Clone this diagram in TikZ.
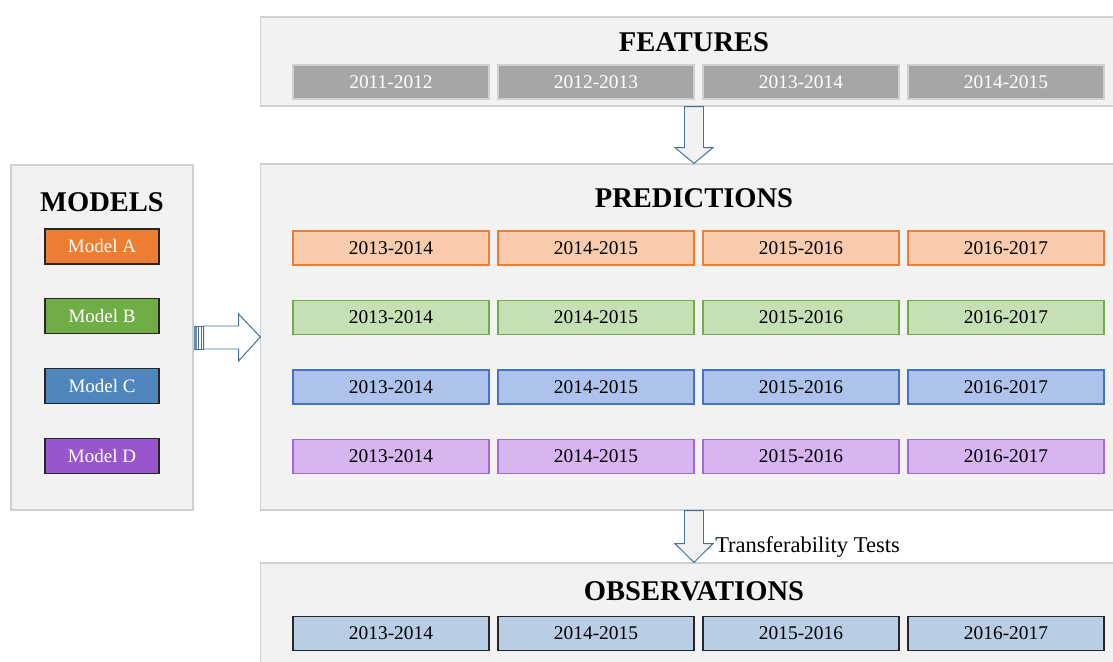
\documentclass[tikz,border=0pt]{standalone}
\usepackage{fontspec}
\setmainfont{Liberation Serif}
\usepackage{tikz}
\usetikzlibrary{calc}
\definecolor{panelgray}{HTML}{F2F2F2}
\definecolor{panelline}{HTML}{D0D0D0}
\definecolor{featgray}{HTML}{A6A6A6}
\definecolor{arrowblue}{HTML}{41719C}
\definecolor{obsblue}{HTML}{B9CDE5}
\definecolor{mOrange}{HTML}{ED7D31}
\definecolor{mGreen}{HTML}{70AD47}
\definecolor{mBlue}{HTML}{4F86BE}
\definecolor{mPurple}{HTML}{9955CC}
\definecolor{pOrange}{HTML}{F8CBAD}
\definecolor{pGreen}{HTML}{C5E0B4}
\definecolor{pBlue}{HTML}{AEC3EB}
\definecolor{pPurple}{HTML}{D7B5F0}
\definecolor{lBlue}{HTML}{4472C4}
\definecolor{lPurple}{HTML}{A368D9}

\begin{document}
\begin{tikzpicture}[x=0.025cm,y=-0.025cm]
\tikzset{panel/.style={draw=panelline, fill=panelgray, line width=0.8pt, inner sep=0pt},
  heading/.style={font=\fontsize{20.3}{24}\selectfont\bfseries},
  yearbox/.style={minimum width=4.9cm, minimum height=0.85cm, inner sep=0pt,
    line width=0.8pt, font=\fontsize{13.8}{16}\selectfont},
  featbox/.style={yearbox, fill=featgray, draw=panelline, text=white},
  obsbox/.style={yearbox, fill=obsblue, draw=black!85},
  modelbox/.style={minimum width=2.85cm, minimum height=0.875cm, inner sep=0pt,
    line width=0.8pt, draw=black!85, text=white, font=\fontsize{13.5}{16}\selectfont},
  blockarrow/.style={draw=arrowblue, fill=white, line width=0.7pt, line join=miter}}
\path[use as bounding box, clip] (0,0) rectangle (1113,662);
% the panels
\node[panel, minimum width=21.65cm, minimum height=2.225cm] (feat) at (694,61.5) {};
\node[panel, minimum width=21.65cm, minimum height=8.65cm] (pred) at (694,337) {};
\node[panel, minimum width=21.65cm, minimum height=2.725cm] (obs) at (694,617.5) {};
\node[panel, minimum width=4.55cm, minimum height=8.625cm] (models) at (102,337.5) {};
% headings
\node[heading] (featT) at ($(feat.north)+(0,26)$) {FEATURES};
\node[heading] (predT) at ($(pred.north)+(0,35)$) {PREDICTIONS};
\node[heading] (obsT) at ($(obs.north)+(0,29)$) {OBSERVATIONS};
\node[heading] (modelsT) at ($(models.north)+(0,38)$) {MODELS};
% feature years
\foreach \yr [count=\i from 0] in {2011-2012,2012-2013,2013-2014,2014-2015} {
\node[featbox] (f\i) at (391+205*\i,82) {\yr};
}
% predictions, one row per model
\foreach \r/\fc/\lc in {0/pOrange/mOrange,1/pGreen/mGreen,2/pBlue/lBlue,3/pPurple/lPurple} {
\foreach \yr [count=\i from 0] in {2013-2014,2014-2015,2015-2016,2016-2017} {
\node[yearbox, fill=\fc, draw=\lc] (p\r\i) at (391+205*\i,248+69.5*\r) {\yr};
}
}
% observations
\foreach \yr [count=\i from 0] in {2013-2014,2014-2015,2015-2016,2016-2017} {
\node[obsbox] (o\i) at (391+205*\i,633.5) {\yr};
}
% models
\foreach \m/\c [count=\i from 0] in {A/mOrange,B/mGreen,C/mBlue,D/mPurple} {
\node[modelbox, fill=\c] (m\m) at (102,246.5+69.8*\i) {Model \m};
}
% block arrows
\draw[blockarrow, fill=panelgray] ($(feat.south)+(-9.5,0)$) -- ($(feat.south)+(9.5,0)$) -- ++(0,41)
  -- ++(9.5,0) -- (pred.north) -- ($(feat.south)+(-19,41)$) -- ++(9.5,0) -- cycle;
\draw[blockarrow, fill=panelgray] ($(pred.south)+(-9.5,0)$) -- ($(pred.south)+(9.5,0)$) -- ++(0,33)
  -- ++(9.5,0) -- (obs.north) -- ($(pred.south)+(-19,33)$) -- ++(9.5,0) -- cycle;
\draw[blockarrow] ($(models.east)+(10,-11.5)$) -- ++(35,0) -- ++(0,-12) -- (pred.west)
  -- ($(models.east)+(45,23.5)$) -- ++(0,-12) -- ($(models.east)+(10,11.5)$) -- cycle;
\fill[arrowblue!80] ($(models.east)+(0,-11.5)$) rectangle ++(3,23);
\draw[arrowblue, line width=0.5pt] ($(models.east)+(5,-11.5)$) -- ++(0,23);
\draw[arrowblue, line width=0.5pt] ($(models.east)+(8,-11.5)$) -- ++(0,23);
\draw[arrowblue, line width=0.5pt] ($(models.east)+(0,-11.5)$) -- ++(10,0);
\draw[arrowblue, line width=0.5pt] ($(models.east)+(0,11.5)$) -- ++(10,0);
\node[anchor=west, inner sep=0pt, font=\fontsize{16}{19}\selectfont] (tt)
  at ($(pred.south)+(21,36)$) {Transferability Tests};
\end{tikzpicture}
\end{document}
